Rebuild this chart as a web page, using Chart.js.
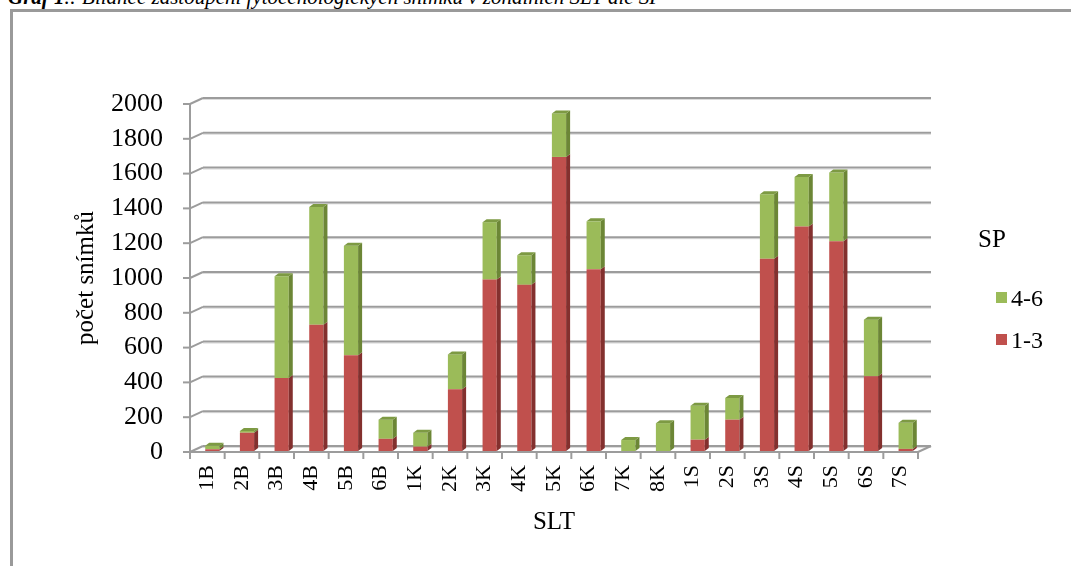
<!DOCTYPE html>
<html>
<head>
<meta charset="utf-8">
<script src="https://cdn.jsdelivr.net/npm/chart.js@4.4.1/dist/chart.umd.min.js"></script>
<style>
  html, body { margin: 0; padding: 0; background: #fff; width: 1071px; height: 566px; overflow: hidden; }
  #frame { position: absolute; left: 10px; top: 9px; width: 1100px; height: 600px; border: 3px solid #9a9a9a; box-sizing: border-box; }
  #cap { position: absolute; left: 8px; top: -13px; font: italic 21px "Liberation Serif", serif; line-height: 21px; white-space: nowrap; color: #000; }
  #wrap { position: absolute; left: 0; top: 0; width: 1071px; height: 566px; }
  .lg { position: absolute; font-family: "Liberation Serif", serif; color: #000; white-space: nowrap; }
  .sw { position: absolute; width: 11px; height: 11px; }
</style>
</head>
<body>
<div id="cap"><b>Graf 1</b>.: Bilance zastoupení fytocenologických snímků v zonálních SLT dle SP</div>
<div id="frame"></div>
<div id="wrap"><canvas id="c" width="1071" height="566"></canvas></div>
<div id="legend"></div>
<script>
// SLT categories and counts of relevés per SP group
const categories = ['1B','2B','3B','4B','5B','6B','1K','2K','3K','4K','5K','6K','7K','8K','1S','2S','3S','4S','5S','6S','7S'];
const sp13 = [10, 105, 420, 725, 550, 70, 25, 355, 985, 955, 1690, 1045, 0, 0, 65, 180, 1105, 1290, 1205, 430, 12];
const sp46 = [20, 10, 585, 678, 630, 110, 80, 200, 330, 170, 250, 275, 63, 160, 195, 125, 370, 285, 395, 325, 150];
const yTicks = [0, 200, 400, 600, 800, 1000, 1200, 1400, 1600, 1800, 2000];
const seriesNames = ['1-3', '4-6'];

const RED = { front: '#C0504D', side: '#83302E', top: '#A8423F' };
const GREEN = { front: '#9BBB59', side: '#6C8636', top: '#7D9A43' };

// 3D geometry: wall depth, bar position inside depth, bar depth
const DX = 13, DY = -6;
const BX = 5, BY = -1;
const BD = 4, BDY = -3;

function seg(ctx, x1, y1, x2, y2) {
  ctx.beginPath(); ctx.moveTo(x1, y1); ctx.lineTo(x2, y2); ctx.stroke();
}

const box3d = {
  id: 'box3d',
  beforeDatasetsDraw(chart) {
    const { ctx, chartArea: a, scales: { y } } = chart;
    ctx.save();
    ctx.lineCap = 'butt';
    // back wall gridlines and side wall diagonals
    yTicks.forEach(v => {
      const py = y.getPixelForValue(v);
      ctx.strokeStyle = '#dcdcdc'; ctx.lineWidth = 1;
      seg(ctx, a.left + DX, py + DY + 1.5, a.right + DX, py + DY + 1.5);
      ctx.strokeStyle = '#9c9c9c'; ctx.lineWidth = 2;
      seg(ctx, a.left, py, a.left + DX, py + DY);
      seg(ctx, a.left + DX, py + DY, a.right + DX, py + DY);
      // y tick mark
      seg(ctx, a.left - 7, py, a.left, py);
    });
    ctx.strokeStyle = '#9c9c9c'; ctx.lineWidth = 2;
    // vertical axis
    seg(ctx, a.left, y.getPixelForValue(yTicks[yTicks.length - 1]), a.left, a.bottom);
    // floor front edge and right edge
    seg(ctx, a.left, a.bottom, a.right, a.bottom);
    seg(ctx, a.right, a.bottom, a.right + DX, a.bottom + DY);
    // category tick marks
    const step = (a.right - a.left) / categories.length;
    for (let i = 0; i <= categories.length; i++) {
      const px = a.left + i * step;
      seg(ctx, px, a.bottom, px, a.bottom + 7);
    }
    ctx.restore();
    ctx.save();
    ctx.translate(BX, BY);
  },
  afterDatasetsDraw(chart) {
    const { ctx } = chart;
    const sets = [RED, GREEN];
    const vals = [sp13, sp46];
    for (let d = 0; d < 2; d++) {
      const meta = chart.getDatasetMeta(d);
      meta.data.forEach((el, i) => {
        if (!vals[d][i]) return;
        const p = el.getProps(['x', 'y', 'base', 'width'], true);
        const xl = p.x - p.width / 2, xr = p.x + p.width / 2;
        const top = Math.min(p.y, p.base), bot = Math.max(p.y, p.base);
        // side face
        ctx.fillStyle = sets[d].side;
        ctx.beginPath();
        ctx.moveTo(xr, top); ctx.lineTo(xr + BD, top + BDY);
        ctx.lineTo(xr + BD, bot + BDY); ctx.lineTo(xr, bot);
        ctx.closePath(); ctx.fill();
        // top face only on the uppermost segment
        const above = d === 0 ? sp46[i] : 0;
        if (!above) {
          ctx.fillStyle = sets[d].top;
          ctx.beginPath();
          ctx.moveTo(xl, top); ctx.lineTo(xl + BD, top + BDY);
          ctx.lineTo(xr + BD, top + BDY); ctx.lineTo(xr, top);
          ctx.closePath(); ctx.fill();
        }
      });
    }
    ctx.restore();
  }
};

const serif = '"Liberation Serif", "Times New Roman", serif';

new Chart(document.getElementById('c'), {
  type: 'bar',
  data: {
    labels: categories,
    datasets: [
      { label: seriesNames[0], data: sp13, backgroundColor: RED.front, borderWidth: 0, barPercentage: 0.41, categoryPercentage: 1 },
      { label: seriesNames[1], data: sp46, backgroundColor: GREEN.front, borderWidth: 0, barPercentage: 0.41, categoryPercentage: 1 }
    ]
  },
  options: {
    responsive: false,
    animation: false,
    layout: { padding: { left: 0, top: 104, right: 153, bottom: 0 } },
    plugins: { legend: { display: false }, tooltip: { enabled: false } },
    scales: {
      x: {
        stacked: true,
        grid: { display: false, drawTicks: false },
        border: { display: false },
        ticks: { color: '#000', font: { family: serif, size: 22 }, minRotation: 90, maxRotation: 90, autoSkip: false, padding: 13 },
        title: { display: true, text: 'SLT', color: '#000', font: { family: serif, size: 25, lineHeight: 1.2 }, padding: { top: 0, bottom: 29 } },
        afterFit(s) { s.height = 114; }
      },
      y: {
        stacked: true,
        min: 0, max: 2000,
        afterBuildTicks(s) { s.ticks = yTicks.map(v => ({ value: v })); },
        grid: { display: false, drawTicks: false },
        border: { display: false },
        ticks: { color: '#000', font: { family: serif, size: 26 }, padding: 27, callback: v => String(v) },
        title: { display: true, text: 'počet snímků', color: '#000', font: { family: serif, size: 25, lineHeight: 1.2 }, padding: { top: 71, bottom: 0 } },
        afterFit(s) { s.width = 190; }
      }
    }
  },
  plugins: [box3d]
});

// legend: series listed top-down in reverse stacking order
const lg = document.getElementById('legend');
function addText(txt, left, top, size) {
  const d = document.createElement('div');
  d.className = 'lg'; d.textContent = txt;
  d.style.left = left + 'px'; d.style.top = top + 'px';
  d.style.fontSize = size + 'px'; d.style.lineHeight = size + 'px';
  lg.appendChild(d);
}
addText('SP', 978, 226, 25);
[[seriesNames[1], GREEN.front, 298], [seriesNames[0], RED.front, 340]].forEach(([name, col, cy]) => {
  const s = document.createElement('div');
  s.className = 'sw'; s.style.background = col;
  s.style.left = '996px'; s.style.top = (cy - 6) + 'px';
  lg.appendChild(s);
  addText(name, 1011, cy - 12, 24);
});
</script>
</body>
</html>
